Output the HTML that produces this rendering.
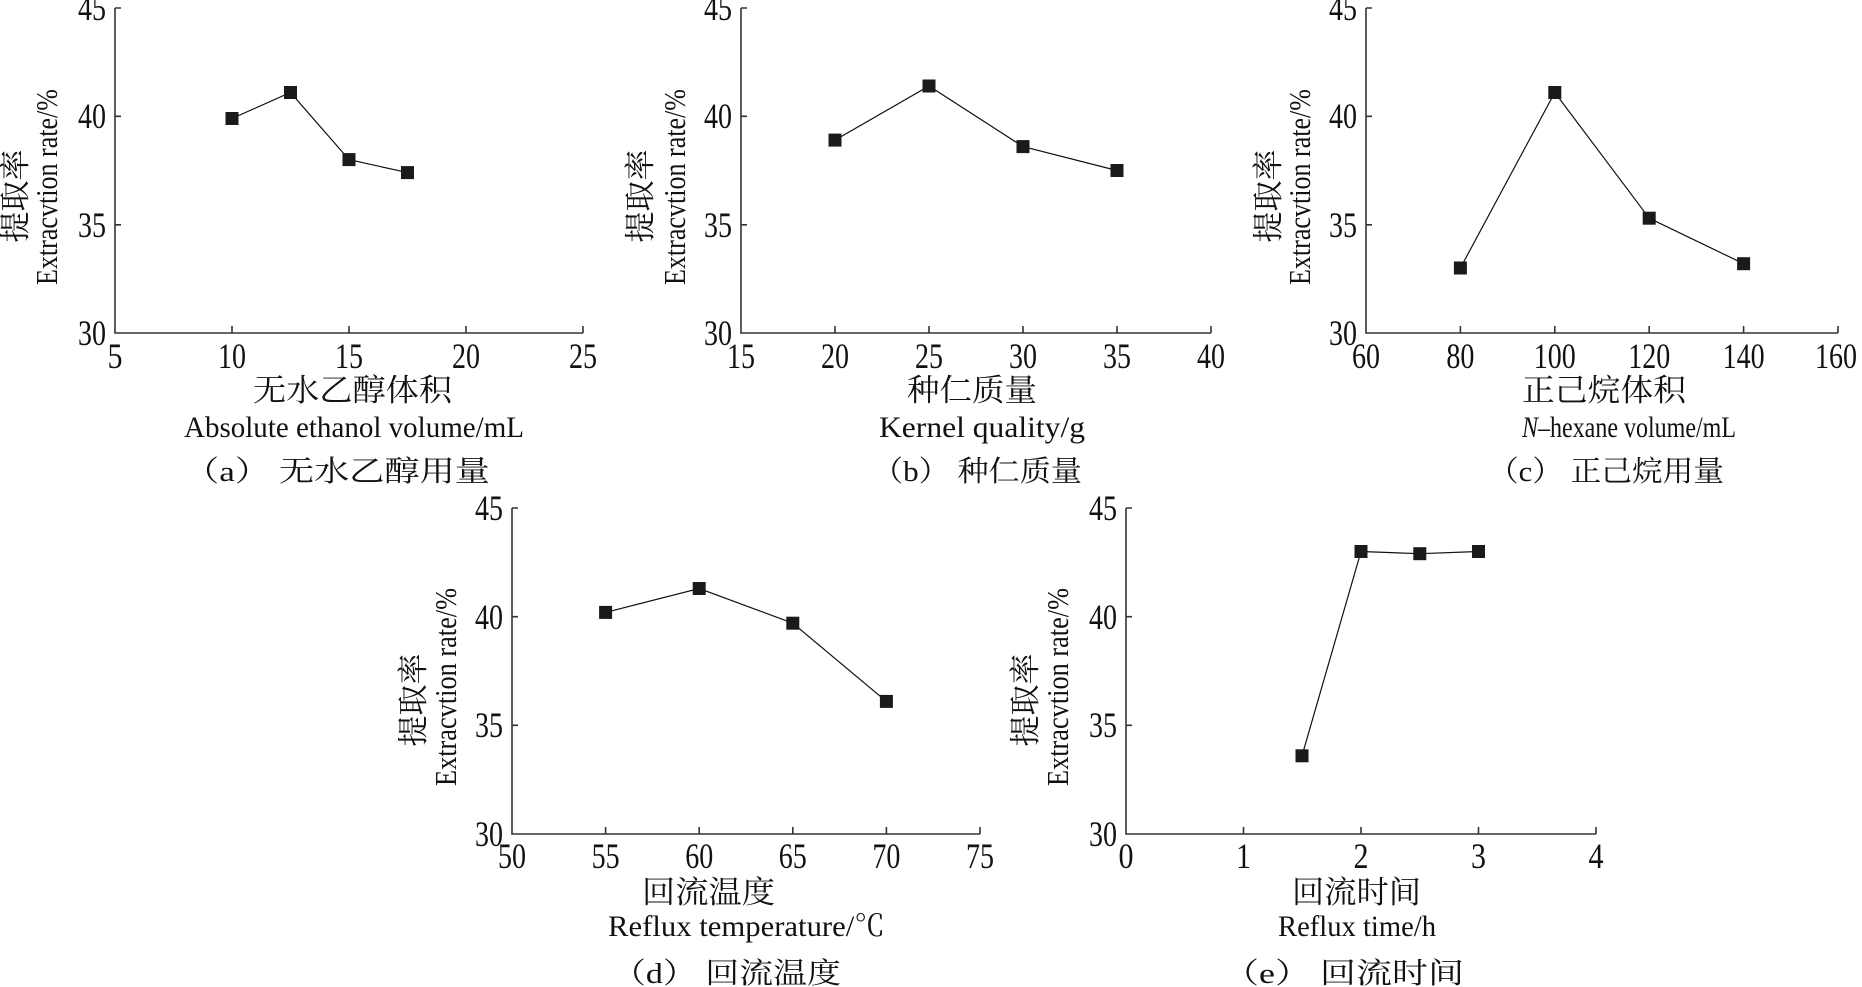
<!DOCTYPE html>
<html><head><meta charset="utf-8"><style>
html,body{margin:0;padding:0;background:#fff;}
svg{display:block;}
text{font-family:"Liberation Serif","Noto Serif CJK SC",serif;fill:#111;}
.cn{font-family:"Liberation Serif","Noto Serif CJK SC","Noto Sans CJK SC",serif;}
.ax{stroke:#333;stroke-width:1.6;fill:none;}
.ln{stroke:#111;stroke-width:1.2;fill:none;}
.mk{fill:#1a1a1a;}
</style></head><body>
<svg width="1862" height="987" viewBox="0 0 1862 987" xmlns="http://www.w3.org/2000/svg">
<defs><g id="m"><rect x="-6.5" y="-6.5" width="13" height="13" class="mk"/></g></defs>

<!-- (a) -->
<g>
<path class="ax" d="M115 8 V333 H583"/>
<path class="ax" d="M115 8 h6 M115 116.3 h6 M115 224.8 h6 M232 333 v-7 M349 333 v-7 M466 333 v-7 M583 333 v-7"/>
<g font-size="36" text-anchor="end">
<text x="106" y="20" textLength="28" lengthAdjust="spacingAndGlyphs">45</text>
<text x="106" y="128" textLength="28" lengthAdjust="spacingAndGlyphs">40</text>
<text x="106" y="237" textLength="28" lengthAdjust="spacingAndGlyphs">35</text>
<text x="106" y="345" textLength="28" lengthAdjust="spacingAndGlyphs">30</text>
</g>
<g font-size="36" text-anchor="middle">
<text x="115" y="368" textLength="15" lengthAdjust="spacingAndGlyphs">5</text><text x="232" y="368" textLength="28" lengthAdjust="spacingAndGlyphs">10</text><text x="349" y="368" textLength="28" lengthAdjust="spacingAndGlyphs">15</text><text x="466" y="368" textLength="28" lengthAdjust="spacingAndGlyphs">20</text><text x="583" y="368" textLength="28" lengthAdjust="spacingAndGlyphs">25</text>
</g>
<polyline class="ln" points="232,118.5 290.5,92.5 349,159.6 407.5,172.6"/>
<use href="#m" x="232" y="118.5"/><use href="#m" x="290.5" y="92.5"/><use href="#m" x="349" y="159.6"/><use href="#m" x="407.5" y="172.6"/>
<text class="cn" x="253" y="401" font-size="31" textLength="199" lengthAdjust="spacingAndGlyphs">无水乙醇体积</text>
<text x="184" y="437" font-size="30" textLength="340" lengthAdjust="spacingAndGlyphs">Absolute ethanol volume/mL</text>
<text class="cn" x="184" y="481" font-size="29" textLength="306" lengthAdjust="spacingAndGlyphs">（a） 无水乙醇用量</text>
<text class="cn" transform="translate(26,196) rotate(-90)" font-size="31" text-anchor="middle">提取率</text>
<text transform="translate(57,187) rotate(-90)" font-size="31" text-anchor="middle" textLength="196" lengthAdjust="spacingAndGlyphs">Extracvtion rate/%</text>
</g>

<!-- (b) -->
<g>
<path class="ax" d="M741 8 V333 H1211"/>
<path class="ax" d="M741 8 h6 M741 116.3 h6 M741 224.8 h6 M835 333 v-7 M929 333 v-7 M1023 333 v-7 M1117 333 v-7 M1211 333 v-7"/>
<g font-size="36" text-anchor="end">
<text x="732" y="20" textLength="28" lengthAdjust="spacingAndGlyphs">45</text>
<text x="732" y="128" textLength="28" lengthAdjust="spacingAndGlyphs">40</text>
<text x="732" y="237" textLength="28" lengthAdjust="spacingAndGlyphs">35</text>
<text x="732" y="345" textLength="28" lengthAdjust="spacingAndGlyphs">30</text>
</g>
<g font-size="36" text-anchor="middle">
<text x="741" y="368" textLength="28" lengthAdjust="spacingAndGlyphs">15</text><text x="835" y="368" textLength="28" lengthAdjust="spacingAndGlyphs">20</text><text x="929" y="368" textLength="28" lengthAdjust="spacingAndGlyphs">25</text><text x="1023" y="368" textLength="28" lengthAdjust="spacingAndGlyphs">30</text><text x="1117" y="368" textLength="28" lengthAdjust="spacingAndGlyphs">35</text><text x="1211" y="368" textLength="28" lengthAdjust="spacingAndGlyphs">40</text>
</g>
<polyline class="ln" points="835,140.1 929,86 1023,146.6 1117,170.5"/>
<use href="#m" x="835" y="140.1"/><use href="#m" x="929" y="86"/><use href="#m" x="1023" y="146.6"/><use href="#m" x="1117" y="170.5"/>
<text class="cn" x="907" y="401" font-size="31" textLength="130" lengthAdjust="spacingAndGlyphs">种仁质量</text>
<text x="879" y="437" font-size="30" textLength="206" lengthAdjust="spacingAndGlyphs">Kernel quality/g</text>
<text class="cn" x="872" y="481" font-size="29" textLength="210" lengthAdjust="spacingAndGlyphs">（b） 种仁质量</text>
<text class="cn" transform="translate(651,196) rotate(-90)" font-size="31" text-anchor="middle">提取率</text>
<text transform="translate(685,187) rotate(-90)" font-size="31" text-anchor="middle" textLength="196" lengthAdjust="spacingAndGlyphs">Extracvtion rate/%</text>
</g>

<!-- (c) -->
<g>
<path class="ax" d="M1366 8 V333 H1838"/>
<path class="ax" d="M1366 8 h6 M1366 116.3 h6 M1366 224.8 h6 M1460.4 333 v-7 M1554.8 333 v-7 M1649.2 333 v-7 M1743.6 333 v-7 M1838 333 v-7"/>
<g font-size="36" text-anchor="end">
<text x="1357" y="20" textLength="28" lengthAdjust="spacingAndGlyphs">45</text>
<text x="1357" y="128" textLength="28" lengthAdjust="spacingAndGlyphs">40</text>
<text x="1357" y="237" textLength="28" lengthAdjust="spacingAndGlyphs">35</text>
<text x="1357" y="345" textLength="28" lengthAdjust="spacingAndGlyphs">30</text>
</g>
<g font-size="36" text-anchor="middle">
<text x="1366" y="368" textLength="28" lengthAdjust="spacingAndGlyphs">60</text><text x="1460.4" y="368" textLength="28" lengthAdjust="spacingAndGlyphs">80</text><text x="1554.8" y="368" textLength="42" lengthAdjust="spacingAndGlyphs">100</text><text x="1649.2" y="368" textLength="42" lengthAdjust="spacingAndGlyphs">120</text><text x="1743.6" y="368" textLength="42" lengthAdjust="spacingAndGlyphs">140</text><text x="1836" y="368" textLength="42" lengthAdjust="spacingAndGlyphs">160</text>
</g>
<polyline class="ln" points="1460.4,268 1554.8,92.5 1649.2,218.2 1743.6,263.7"/>
<use href="#m" x="1460.4" y="268"/><use href="#m" x="1554.8" y="92.5"/><use href="#m" x="1649.2" y="218.2"/><use href="#m" x="1743.6" y="263.7"/>
<text class="cn" x="1522" y="401" font-size="31" textLength="164" lengthAdjust="spacingAndGlyphs">正己烷体积</text>
<text x="1522" y="437" font-size="30" textLength="214" lengthAdjust="spacingAndGlyphs"><tspan font-style="italic">N</tspan>–hexane volume/mL</text>
<text class="cn" x="1488" y="481" font-size="29" textLength="236" lengthAdjust="spacingAndGlyphs">（c） 正己烷用量</text>
<text class="cn" transform="translate(1279,196) rotate(-90)" font-size="31" text-anchor="middle">提取率</text>
<text transform="translate(1310,187) rotate(-90)" font-size="31" text-anchor="middle" textLength="196" lengthAdjust="spacingAndGlyphs">Extracvtion rate/%</text>
</g>

<!-- (d) -->
<g>
<path class="ax" d="M512 508 V834 H980"/>
<path class="ax" d="M512 508 h6 M512 616.7 h6 M512 725.3 h6 M605.6 834 v-7 M699.2 834 v-7 M792.8 834 v-7 M886.4 834 v-7 M980 834 v-7"/>
<g font-size="36" text-anchor="end">
<text x="503" y="520" textLength="28" lengthAdjust="spacingAndGlyphs">45</text>
<text x="503" y="629" textLength="28" lengthAdjust="spacingAndGlyphs">40</text>
<text x="503" y="737" textLength="28" lengthAdjust="spacingAndGlyphs">35</text>
<text x="503" y="846" textLength="28" lengthAdjust="spacingAndGlyphs">30</text>
</g>
<g font-size="36" text-anchor="middle">
<text x="512" y="868" textLength="28" lengthAdjust="spacingAndGlyphs">50</text><text x="605.6" y="868" textLength="28" lengthAdjust="spacingAndGlyphs">55</text><text x="699.2" y="868" textLength="28" lengthAdjust="spacingAndGlyphs">60</text><text x="792.8" y="868" textLength="28" lengthAdjust="spacingAndGlyphs">65</text><text x="886.4" y="868" textLength="28" lengthAdjust="spacingAndGlyphs">70</text><text x="980" y="868" textLength="28" lengthAdjust="spacingAndGlyphs">75</text>
</g>
<polyline class="ln" points="605.6,612.4 699.2,588.5 792.8,623.2 886.4,701.4"/>
<use href="#m" x="605.6" y="612.4"/><use href="#m" x="699.2" y="588.5"/><use href="#m" x="792.8" y="623.2"/><use href="#m" x="886.4" y="701.4"/>
<text class="cn" x="642" y="903" font-size="31" textLength="133" lengthAdjust="spacingAndGlyphs">回流温度</text>
<text x="608" y="936" font-size="30" textLength="277" lengthAdjust="spacingAndGlyphs">Reflux temperature/℃</text>
<text class="cn" x="612" y="983" font-size="29" textLength="229" lengthAdjust="spacingAndGlyphs">（d） 回流温度</text>
<text class="cn" transform="translate(424,700) rotate(-90)" font-size="31" text-anchor="middle">提取率</text>
<text transform="translate(456,687) rotate(-90)" font-size="31" text-anchor="middle" textLength="198" lengthAdjust="spacingAndGlyphs">Extracvtion rate/%</text>
</g>

<!-- (e) -->
<g>
<path class="ax" d="M1126 508 V834 H1596"/>
<path class="ax" d="M1126 508 h6 M1126 616.7 h6 M1126 725.3 h6 M1243.5 834 v-7 M1361 834 v-7 M1478.5 834 v-7 M1596 834 v-7"/>
<g font-size="36" text-anchor="end">
<text x="1117" y="520" textLength="28" lengthAdjust="spacingAndGlyphs">45</text>
<text x="1117" y="629" textLength="28" lengthAdjust="spacingAndGlyphs">40</text>
<text x="1117" y="737" textLength="28" lengthAdjust="spacingAndGlyphs">35</text>
<text x="1117" y="846" textLength="28" lengthAdjust="spacingAndGlyphs">30</text>
</g>
<g font-size="36" text-anchor="middle">
<text x="1126" y="868" textLength="15" lengthAdjust="spacingAndGlyphs">0</text><text x="1243.5" y="868" textLength="15" lengthAdjust="spacingAndGlyphs">1</text><text x="1361" y="868" textLength="15" lengthAdjust="spacingAndGlyphs">2</text><text x="1478.5" y="868" textLength="15" lengthAdjust="spacingAndGlyphs">3</text><text x="1596" y="868" textLength="15" lengthAdjust="spacingAndGlyphs">4</text>
</g>
<polyline class="ln" points="1302,755.8 1361,551.5 1419.8,553.7 1478.5,551.5"/>
<use href="#m" x="1302" y="755.8"/><use href="#m" x="1361" y="551.5"/><use href="#m" x="1419.8" y="553.7"/><use href="#m" x="1478.5" y="551.5"/>
<text class="cn" x="1292" y="903" font-size="31" textLength="129" lengthAdjust="spacingAndGlyphs">回流时间</text>
<text x="1278" y="936" font-size="30" textLength="158" lengthAdjust="spacingAndGlyphs">Reflux time/h</text>
<text class="cn" x="1223" y="983" font-size="29" textLength="241" lengthAdjust="spacingAndGlyphs">（e） 回流时间</text>
<text class="cn" transform="translate(1036,700) rotate(-90)" font-size="31" text-anchor="middle">提取率</text>
<text transform="translate(1068,687) rotate(-90)" font-size="31" text-anchor="middle" textLength="198" lengthAdjust="spacingAndGlyphs">Extracvtion rate/%</text>
</g>
</svg>
</body></html>
